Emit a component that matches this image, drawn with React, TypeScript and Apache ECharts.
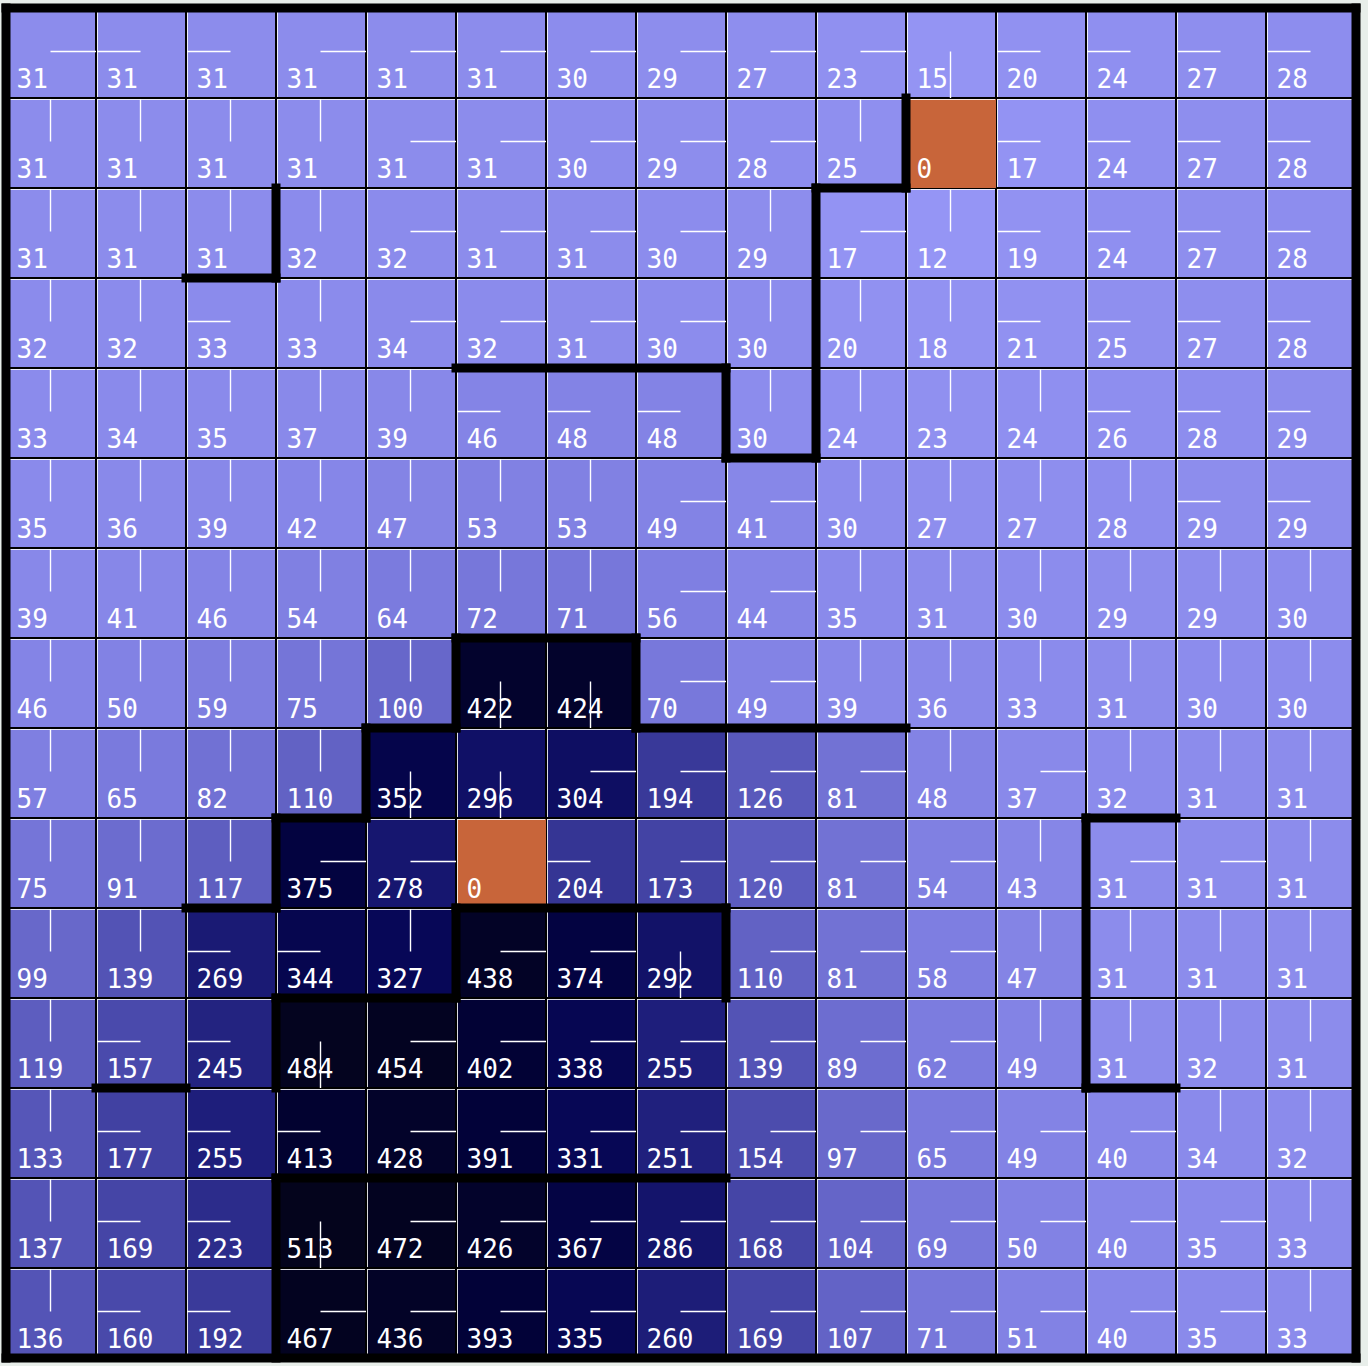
import React, { useEffect, useRef } from "react";
import * as echarts from "echarts";

// Cell values, one array per grid row (top to bottom)
const row00 = [31, 31, 31, 31, 31, 31, 30, 29, 27, 23, 15, 20, 24, 27, 28];
const row01 = [31, 31, 31, 31, 31, 31, 30, 29, 28, 25, 0, 17, 24, 27, 28];
const row02 = [31, 31, 31, 32, 32, 31, 31, 30, 29, 17, 12, 19, 24, 27, 28];
const row03 = [32, 32, 33, 33, 34, 32, 31, 30, 30, 20, 18, 21, 25, 27, 28];
const row04 = [33, 34, 35, 37, 39, 46, 48, 48, 30, 24, 23, 24, 26, 28, 29];
const row05 = [35, 36, 39, 42, 47, 53, 53, 49, 41, 30, 27, 27, 28, 29, 29];
const row06 = [39, 41, 46, 54, 64, 72, 71, 56, 44, 35, 31, 30, 29, 29, 30];
const row07 = [46, 50, 59, 75, 100, 422, 424, 70, 49, 39, 36, 33, 31, 30, 30];
const row08 = [57, 65, 82, 110, 352, 296, 304, 194, 126, 81, 48, 37, 32, 31, 31];
const row09 = [75, 91, 117, 375, 278, 0, 204, 173, 120, 81, 54, 43, 31, 31, 31];
const row10 = [99, 139, 269, 344, 327, 438, 374, 292, 110, 81, 58, 47, 31, 31, 31];
const row11 = [119, 157, 245, 484, 454, 402, 338, 255, 139, 89, 62, 49, 31, 32, 31];
const row12 = [133, 177, 255, 413, 428, 391, 331, 251, 154, 97, 65, 49, 40, 34, 32];
const row13 = [137, 169, 223, 513, 472, 426, 367, 286, 168, 104, 69, 50, 40, 35, 33];
const row14 = [136, 160, 192, 467, 436, 393, 335, 260, 169, 107, 71, 51, 40, 35, 33];
const values = [row00, row01, row02, row03, row04, row05, row06, row07, row08, row09, row10, row11, row12, row13, row14];

// Policy direction per cell: U, D, L, R ('.' = goal cell)
const policy = [
  "RLLRRRRRRRDLLLL",
  "UUUURRRRRU.LLLL",
  "UUUURRRRURULLLL",
  "UULURRRRUUULLLL",
  "UUUUULLLUUUULLL",
  "UUUUUUURRUUUULL",
  "UUUUUUURRUUUUUU",
  "UUUUUDDRRUUUUUU",
  "UUUUDDRRRRURUUU",
  "UUURR.LRRRRURRU",
  "UULLURRDRRRUUUU",
  "ULLDRRRRRRRUUUU",
  "ULLLRRRRRRRRRUU",
  "ULLDRRRRRRRRRRU",
  "ULLRRRRRRRRRRRU",
];

// Goal cells [col, row]
const goals = [[10, 1], [5, 9]];

// Vertical walls: [x boundary, fromRow, toRow]
const vWalls = [
  [0, 0, 15], [15, 0, 15],
  [10, 1, 2], [9, 2, 5], [8, 4, 5], [3, 2, 3],
  [5, 7, 8], [7, 7, 8], [4, 8, 9], [3, 9, 10],
  [5, 10, 11], [8, 10, 11], [3, 11, 12], [3, 13, 15],
  [12, 9, 12],
];
// Horizontal walls: [y boundary, fromCol, toCol]
const hWalls = [
  [0, 0, 15], [15, 0, 15],
  [2, 9, 10], [5, 8, 9], [4, 5, 8], [3, 2, 3],
  [7, 5, 7], [8, 4, 5], [8, 7, 10], [9, 3, 4],
  [10, 2, 3], [10, 5, 8], [11, 3, 5], [12, 1, 2],
  [13, 3, 8], [9, 12, 13], [12, 12, 13],
];

const DIRS = "UDLR";

export default function App() {
  const ref = useRef<HTMLDivElement>(null);

  useEffect(() => {
    if (!ref.current) return;
    const chart = echarts.init(ref.current, undefined, { renderer: "svg" });

    const isGoal = (c: number, r: number) => goals.some((g) => g[0] === c && g[1] === r);
    const cellData: number[][] = [];
    const goalData: number[][] = [];
    const arrowData: number[][] = [];
    values.forEach((row, r) =>
      row.forEach((v, c) => {
        if (isGoal(c, r)) goalData.push([c, r, v]);
        else cellData.push([c, r, v]);
        const d = DIRS.indexOf(policy[r][c]);
        if (d >= 0) arrowData.push([c, r, d]);
      })
    );
    const wallData: number[][] = [
      ...vWalls.map((w) => [w[0], w[1], w[0], w[2]]),
      ...hWalls.map((w) => [w[1], w[0], w[2], w[0]]),
    ];

    const cellRender = (_p: any, api: any) => {
      const c = api.value(0);
      const r = api.value(1);
      const v = api.value(2);
      const p0 = api.coord([c, r]);
      const p1 = api.coord([c + 1, r + 1]);
      const x = Math.round(p0[0]);
      const y = Math.round(p0[1]);
      const w = Math.round(p1[0]) - x;
      const h = Math.round(p1[1]) - y;
      return {
        type: "group",
        children: [
          { type: "rect", shape: { x, y, width: w, height: h }, style: { fill: api.visual("color") } },
          { type: "line", shape: { x1: x - 1, y1: y, x2: x + w + 1, y2: y }, style: { stroke: "#000", lineWidth: 2 } },
          { type: "line", shape: { x1: x, y1: y - 1, x2: x, y2: y + h + 1 }, style: { stroke: "#000", lineWidth: 2 } },
          { type: "line", shape: { x1: x + 1, y1: y + 1.5, x2: x + w - 1, y2: y + 1.5 }, style: { stroke: "#ffffff", lineWidth: 1, opacity: 0.85 } },
          { type: "line", shape: { x1: x + 1.5, y1: y + 1, x2: x + 1.5, y2: y + h - 1 }, style: { stroke: "#ffffff", lineWidth: 1, opacity: 0.85 } },
          {
            type: "text",
            style: {
              text: String(v),
              x: x + 10.5,
              y: y + 71,
              fill: "#ffffff",
              fontSize: 26,
              fontFamily: "DejaVu Sans Mono",
              align: "left",
              verticalAlign: "middle",
            },
          },
        ],
      };
    };

    const arrowRender = (_p: any, api: any) => {
      const c = api.value(0);
      const r = api.value(1);
      const d = api.value(2);
      const p0 = api.coord([c, r]);
      const p1 = api.coord([c + 1, r + 1]);
      const cx = Math.round((p0[0] + p1[0]) / 2) - 0.5;
      const cy = Math.round((p0[1] + p1[1]) / 2) - 1.5;
      let shape;
      if (d === 0) shape = { x1: cx, y1: p0[1] + 1, x2: cx, y2: cy };
      else if (d === 1) shape = { x1: cx, y1: cy, x2: cx, y2: p1[1] };
      else if (d === 2) shape = { x1: p0[0] + 1, y1: cy, x2: cx, y2: cy };
      else shape = { x1: cx, y1: cy, x2: p1[0], y2: cy };
      return { type: "line", shape, style: { stroke: "#ffffff", lineWidth: 1.4 } };
    };

    const HALF = 4.5;
    const wallRender = (_p: any, api: any) => {
      const a = api.coord([api.value(0), api.value(1)]);
      const b = api.coord([api.value(2), api.value(3)]);
      const x0 = Math.min(a[0], b[0]) - HALF;
      const y0 = Math.min(a[1], b[1]) - HALF;
      const x1 = Math.max(a[0], b[0]) + HALF;
      const y1 = Math.max(a[1], b[1]) + HALF;
      return {
        type: "rect",
        shape: { x: x0, y: y0, width: x1 - x0, height: y1 - y0 },
        style: { fill: "#000" },
      };
    };

    chart.setOption({
      animation: false,
      backgroundColor: "#e8eeea",
      grid: { left: 6, top: 8, width: 1350, height: 1350, show: false },
      xAxis: { type: "value", min: 0, max: 15, show: false },
      yAxis: { type: "value", min: 0, max: 15, inverse: true, show: false },
      visualMap: {
        type: "continuous",
        show: false,
        min: 0,
        max: 512,
        dimension: 2,
        seriesIndex: 0,
        inRange: {
          color: [
            "#9b9bfa",
            "#7b7bde",
            "#5858ba",
            "#3a3a9a",
            "#1e1e7a",
            "#08085a",
            "#02023c",
            "#030322",
            "#04041c",
          ],
        },
      },
      series: [
        {
          type: "custom",
          name: "cells",
          data: cellData,
          renderItem: cellRender,
          encode: { x: 0, y: 1 },
          z: 1,
          silent: true,
        },
        {
          type: "custom",
          name: "goals",
          data: goalData,
          renderItem: cellRender,
          itemStyle: { color: "#c8653a" },
          encode: { x: 0, y: 1 },
          z: 2,
          silent: true,
        },
        {
          type: "custom",
          name: "policy",
          data: arrowData,
          renderItem: arrowRender,
          encode: { x: 0, y: 1 },
          z: 3,
          silent: true,
        },
        {
          type: "custom",
          name: "walls",
          data: wallData,
          renderItem: wallRender,
          encode: { x: [0, 2], y: [1, 3] },
          clip: false,
          z: 4,
          silent: true,
        },
      ],
    });

    return () => chart.dispose();
  }, []);

  return (
    <div
      ref={ref}
      style={{ position: "absolute", left: 0, top: 0, width: 1368, height: 1366, background: "#e8eeea" }}
    />
  );
}
